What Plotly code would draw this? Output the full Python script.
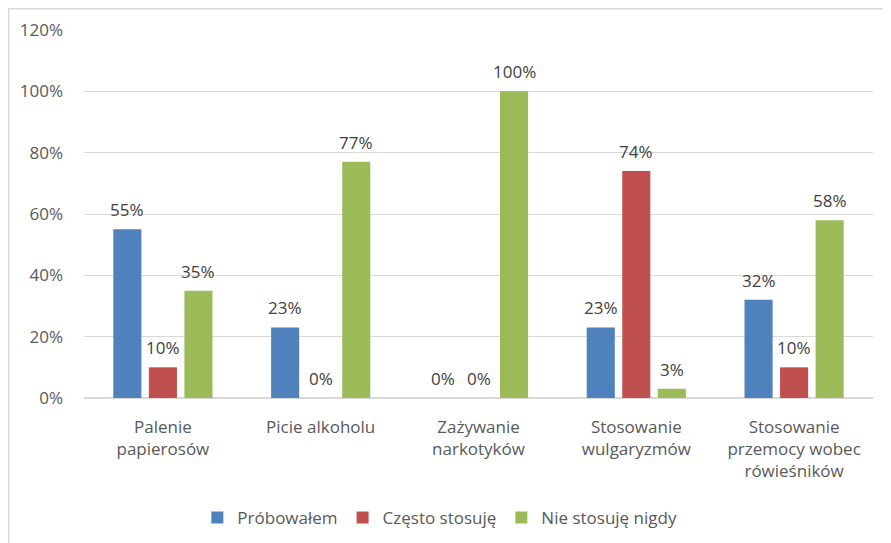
import plotly.graph_objects as go

categories = ["Palenie<br>papierosów", "Picie alkoholu", "Zażywanie<br>narkotyków",
              "Stosowanie<br>wulgaryzmów", "Stosowanie<br>przemocy wobec<br>rówieśników"]
series_names = ["Próbowałem", "Często stosuję", "Nie stosuję nigdy"]
probowalem = [55, 23, 0, 23, 32]
czesto = [10, 0, 0, 74, 10]
nigdy = [35, 77, 100, 3, 58]
colors = ["#4F81BD", "#C0504D", "#9BBB59"]
y_ticks = [0, 20, 40, 60, 80, 100, 120]

FONT = "Open Sans"
# page body has an 8px margin, so the figure is a bit smaller than the window
W, H = 883, 535
ML, MR, MT, MB = 76, 18, 22, 145
BARGAP, BARGROUPGAP = 0.324, 0.21

fig = go.Figure()
all_series = [probowalem, czesto, nigdy]
for name, vals, col in zip(series_names, all_series, colors):
    fig.add_trace(go.Bar(
        x=categories, y=vals, name=name, marker_color=col,
        marker_line_width=0,
    ))

# data labels as annotations placed over each bar of the group
plot_w = W - ML - MR
plot_h = H - MT - MB
slot_px = plot_w / len(categories) * (1 - BARGAP) / len(all_series)
annotations = []
for si, vals in enumerate(all_series):
    shift = (si - (len(all_series) - 1) / 2) * slot_px
    for cat, v in zip(categories, vals):
        annotations.append(dict(
            x=cat, y=v, xref="x", yref="y", text=f"{v}%", showarrow=False,
            xshift=shift, yshift=6, yanchor="bottom", xanchor="center",
            font=dict(family=FONT, size=17, color="#404040"),
        ))

fig.update_layout(
    width=W, height=H,
    margin=dict(l=ML, r=MR, t=MT, b=MB, autoexpand=False),
    paper_bgcolor="white", plot_bgcolor="white",
    barmode="group", bargap=BARGAP, bargroupgap=BARGROUPGAP,
    font=dict(family=FONT, color="#595959"),
    showlegend=True,
    legend=dict(orientation="h", x=0.451, xanchor="center", y=-0.326, yanchor="middle",
                font=dict(family=FONT, size=17, color="#595959"), itemwidth=30,
                traceorder="normal"),
    xaxis=dict(showgrid=False, showline=False, ticks="", automargin=False,
               tickfont=dict(family=FONT, size=17, color="#595959"),
               ticklabelstandoff=17),
    yaxis=dict(range=[0, 120], tickvals=y_ticks, ticktext=[f"{v}%" for v in y_ticks],
               showgrid=True, gridcolor="#D9D9D9", gridwidth=1.3, automargin=False,
               zeroline=True, zerolinecolor="#D9D9D9", zerolinewidth=1.5,
               showline=False, ticks="", ticklabelstandoff=20,
               tickfont=dict(family=FONT, size=17, color="#595959")),
    annotations=annotations,
    shapes=[dict(type="rect", xref="paper", yref="paper",
                 x0=(0.5 - ML) / plot_w, x1=1.2, y0=-0.6, y1=1 + (MT - 0.5) / plot_h,
                 line=dict(color="#D9D9D9", width=2), layer="below")],
)

fig.write_html("out.html")
